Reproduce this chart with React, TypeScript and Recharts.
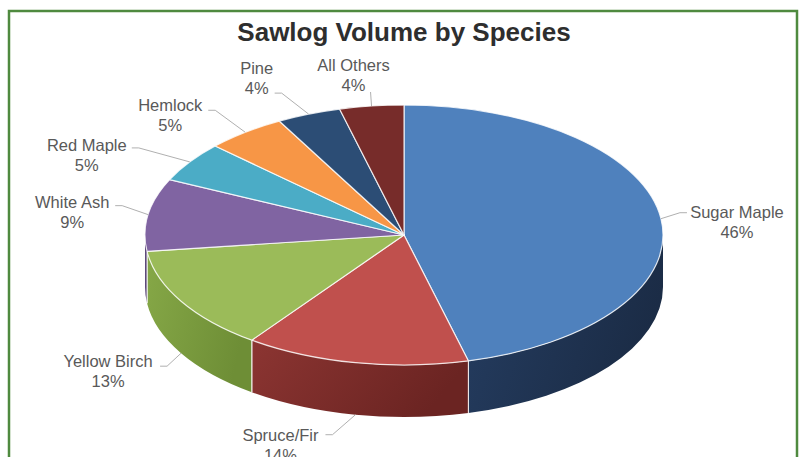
import React from 'react';
import { PieChart, Pie } from 'recharts';

// Sawlog volume share by species (%)
const species = ['Sugar Maple', 'Spruce/Fir', 'Yellow Birch', 'White Ash', 'Red Maple', 'Hemlock', 'Pine', 'All Others'];
const shares = [46, 14, 13, 9, 5, 5, 4, 4];

const data = species.map((name, i) => ({ name, value: shares[i] }));

// Excel 2007 palette: top face, then side wall (light -> dark)
const faceColors = ['#4F81BD', '#C0504D', '#9BBB59', '#8064A2', '#4BACC6', '#F79646', '#2C4D75', '#772C2A'];
const sideColors = [
  ['#253d61', '#1b2c46'],
  ['#8c3532', '#6b2422'],
  ['#86a847', '#6e8e36'],
  ['#644e84', '#523f6c'],
  ['#3a8ea5', '#2e7489'],
  ['#c9782f', '#a55f24'],
  ['#223b5c', '#1a2d47'],
  ['#5a201f', '#461817'],
];

// label placement, relative to the slice rim point (leader end + text centre)
const labelOffsets = [
  { lx: 26, ly: -6, tx: 76, ty: -7 },
  { lx: -30, ly: 20, tx: -75, ty: 20 },
  { lx: -21, ly: 13, tx: -73, ty: 8 },
  { lx: -33, ly: -9, tx: -76, ty: -13 },
  { lx: -58, ly: -14, tx: -103, ty: -17 },
  { lx: -37, ly: -22, tx: -75, ty: -27 },
  { lx: -34, ly: -21, tx: -52, ty: -46 },
  { lx: -1, ly: -14, tx: -18, ty: -41 },
];

const W = 806;
const H = 457;
const TILT = 0.502;
const DEPTH = 52;
const RAD = Math.PI / 180;
const FONT = '"Liberation Sans", Arial, sans-serif';

const pt = (cx: number, cy: number, rx: number, ry: number, a: number, dy = 0) =>
  [cx + rx * Math.cos(a * RAD), cy - ry * Math.sin(a * RAD) + dy];

function Slice3D(props: any) {
  const { cx, cy, outerRadius, startAngle, endAngle } = props;
  let i = props.index;
  if (i === undefined || i === null) i = species.indexOf(props.name ?? props.payload?.name);
  const rx = outerRadius;
  const ry = outerRadius * TILT;
  const hi = Math.max(startAngle, endAngle);
  const lo = Math.min(startAngle, endAngle);
  const [sx, sy] = pt(cx, cy, rx, ry, hi);
  const [ex, ey] = pt(cx, cy, rx, ry, lo);
  const large = hi - lo > 180 ? 1 : 0;
  const top = `M${cx},${cy} L${sx},${sy} A${rx},${ry} 0 ${large} 1 ${ex},${ey} Z`;

  // visible front wall: angles between -180 and 0
  const a1 = Math.min(hi, 0);
  const a2 = Math.max(lo, -180);
  let side = null;
  const edges: any[] = [];
  if (a1 > a2) {
    const [p1x, p1y] = pt(cx, cy, rx, ry, a1);
    const [p2x, p2y] = pt(cx, cy, rx, ry, a2);
    side = `M${p1x},${p1y} A${rx},${ry} 0 0 1 ${p2x},${p2y} L${p2x},${p2y + DEPTH} A${rx},${ry} 0 0 0 ${p1x},${p1y + DEPTH} Z`;
    [hi, lo].forEach((a, k) => {
      if (a < 0 && a > -180) {
        const [qx, qy] = pt(cx, cy, rx, ry, a);
        edges.push(<line key={k} x1={qx} y1={qy} x2={qx} y2={qy + DEPTH} stroke="rgba(255,255,255,0.75)" strokeWidth={1.2} />);
      }
    });
  }
  const sc = sideColors[i] || ['#555', '#333'];
  return (
    <g>
      <defs>
        <linearGradient id={`side-${i}`} x1="0" y1="0" x2="1" y2="0.3">
          <stop offset="0%" stopColor={sc[0]} />
          <stop offset="100%" stopColor={sc[1]} />
        </linearGradient>
      </defs>
      {side && <path d={side} fill={`url(#side-${i})`} stroke="none" />}
      {edges}
      <path d={top} fill={faceColors[i]} stroke="rgba(255,255,255,0.8)" strokeWidth={1.2} strokeLinejoin="round" />
    </g>
  );
}

function renderLabel(props: any) {
  const { cx, cy, outerRadius, midAngle, index, value, name } = props;
  const rx = outerRadius;
  const ry = outerRadius * TILT;
  const front = Math.sin(midAngle * RAD) < 0;
  const [px, py] = pt(cx, cy, rx, ry, midAngle, front ? DEPTH : 0);
  const o = labelOffsets[index];
  const lx = px + o.lx;
  const ly = py + o.ly;
  const tx = px + o.tx;
  const ty = py + o.ty;
  const dir = px > lx ? 1 : -1;
  const pts = Math.abs(o.lx) > 10
    ? `${lx},${ly} ${lx + dir * 7},${ly} ${px},${py}`
    : `${lx},${ly} ${px},${py}`;
  return (
    <g key={`lbl-${index}`}>
      <polyline points={pts} fill="none" stroke="#b0b0b0" strokeWidth={1} />
      <text x={tx} y={ty + 6} textAnchor="middle" fill="#595959" fontSize={16.5} fontFamily={FONT}>
        <tspan x={tx}>{name}</tspan>
        <tspan x={tx} dy={20}>{value}%</tspan>
      </text>
    </g>
  );
}

export default function App() {
  return (
    <div style={{ position: 'fixed', left: 0, top: 0, width: W, height: H, background: '#fff', overflow: 'hidden' }}>
      <svg width={W} height={H} style={{ position: 'absolute', left: 0, top: 0 }}>
        <rect x={9} y={11} width={788} height={470} fill="#fff" stroke="#4f8a3f" strokeWidth={2.5} />
        <text x={404} y={41} textAnchor="middle" fontSize={26} fontWeight="bold" fill="#2e2e2e" fontFamily={FONT}>
          Sawlog Volume by Species
        </text>
      </svg>
      <div style={{ position: 'absolute', left: 0, top: 0 }}>
        <PieChart width={W} height={H} margin={{ top: 0, right: 0, bottom: 0, left: 0 }}>
          <Pie
            data={data}
            dataKey="value"
            nameKey="name"
            cx={404}
            cy={235}
            outerRadius={259}
            startAngle={90}
            endAngle={-270}
            stroke="none"
            shape={Slice3D}
            activeShape={Slice3D}
            inactiveShape={Slice3D}
            label={renderLabel}
            labelLine={false}
            isAnimationActive={false}
          />
        </PieChart>
      </div>
    </div>
  );
}
